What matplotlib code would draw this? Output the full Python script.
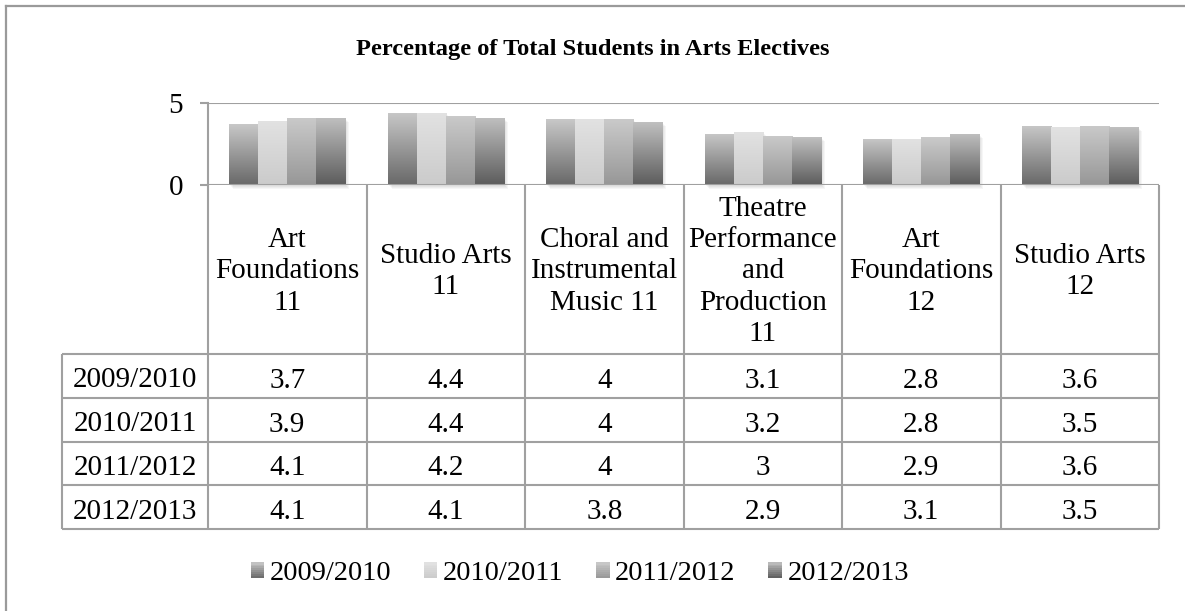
import numpy as np
import matplotlib
matplotlib.use("Agg")
import matplotlib.pyplot as plt
from matplotlib.patches import Rectangle
from matplotlib.colors import LinearSegmentedColormap, to_rgb
from matplotlib.legend_handler import HandlerBase
import matplotlib.transforms as mtransforms

# ---------------- data ----------------
categories = [
    "Art\nFoundations\n11",
    "Studio Arts\n11",
    "Choral and\nInstrumental\nMusic 11",
    "Theatre\nPerformance\nand\nProduction\n11",
    "Art\nFoundations\n12",
    "Studio Arts\n12",
]
series_names = ["2009/2010", "2010/2011", "2011/2012", "2012/2013"]
v_2009 = [3.7, 4.4, 4.0, 3.1, 2.8, 3.6]
v_2010 = [3.9, 4.4, 4.0, 3.2, 2.8, 3.5]
v_2011 = [4.1, 4.2, 4.0, 3.0, 2.9, 3.6]
v_2012 = [4.1, 4.1, 3.8, 2.9, 3.1, 3.5]
series_values = [v_2009, v_2010, v_2011, v_2012]
y_ticks = [0, 5]
title = "Percentage of Total Students in Arts Electives"

# gradient (top, bottom) colours for each series
grad_colors = [("#c8c8c8", "#686868"),
               ("#e2e2e2", "#cbcbcb"),
               ("#cacaca", "#979797"),
               ("#c0c0c0", "#5c5c5c")]

FONT = "Liberation Serif"
FS = 21
GRAY = "#a0a0a0"

W, H = 1185, 611
fig = plt.figure(figsize=(W / 100, H / 100), dpi=100)
fig.patch.set_facecolor("white")

# layout (pixels)
ax_left, ax_right = 208, 1159
y_five, y_zero = 102.7, 185
row_top = 354
row_h = 43.75
tab_left = 62

ax = fig.add_axes([ax_left / W, 1 - y_zero / H, (ax_right - ax_left) / W, (y_zero - y_five) / H])
ax.set_facecolor("none")
n = len(categories)
x = np.arange(n)
bw = 0.183

for i, vals in enumerate(series_values):
    off = (i - 1.5) * bw
    bars = ax.bar(x + off, vals, width=bw, color="none", edgecolor="none", zorder=3)
    top, bot = grad_colors[i]
    cmap = LinearSegmentedColormap.from_list("g%d" % i, [to_rgb(bot), to_rgb(top)])
    grad = np.linspace(0, 1, 256).reshape(-1, 1)
    for p in bars.patches:
        x0, w0, h0 = p.get_x(), p.get_width(), p.get_height()
        im = ax.imshow(grad, extent=[x0, x0 + w0, 0, h0], origin="lower", cmap=cmap,
                       aspect="auto", zorder=3, interpolation="bilinear")
        im.set_clip_path(p)
        # soft shadow
        for k in range(1, 5):
            tr = ax.transData + mtransforms.ScaledTranslation(k / 100, -k / 100, fig.dpi_scale_trans)
            sh = Rectangle((x0, 0), w0, h0, facecolor="black", alpha=0.035, edgecolor="none",
                           transform=tr, zorder=2, clip_on=False)
            ax.add_patch(sh)

ax.set_xlim(-0.5, n - 0.5)
ax.set_ylim(0, 5)
ax.set_xticks([])
ax.set_yticks(y_ticks)
ax.set_yticklabels([str(t) for t in y_ticks], fontfamily=FONT, fontsize=FS)
ax.tick_params(axis="y", length=5.8, width=1.5, color=GRAY, pad=12)
for s in ["top", "right", "bottom"]:
    ax.spines[s].set_visible(False)
ax.spines["left"].set_color(GRAY)
ax.spines["left"].set_linewidth(1.5)
for t in y_ticks:
    ax.axhline(t, color=GRAY, lw=1.5, zorder=1 if t else 4)

# ---------------- overlay for table, title, frame ----------------
tax = fig.add_axes([0, 0, 1, 1], zorder=-1)
tax.set_xlim(0, W)
tax.set_ylim(H, 0)
tax.axis("off")

col_edges = ax_left + (ax_right - ax_left) / n * np.arange(n + 1)
row_lines = row_top + row_h * np.arange(len(series_names) + 1)
tab_bottom = row_lines[-1]

for xe in col_edges:
    tax.plot([xe, xe], [y_zero, tab_bottom], color=GRAY, lw=1.5, solid_capstyle="butt")
tax.plot([tab_left, tab_left], [row_top, tab_bottom], color=GRAY, lw=1.5, solid_capstyle="butt")
for yl in row_lines:
    tax.plot([tab_left, ax_right], [yl, yl], color=GRAY, lw=1.5, solid_capstyle="butt")

col_centers = (col_edges[:-1] + col_edges[1:]) / 2
for cx, cat in zip(col_centers, categories):
    tax.text(cx, (y_zero + row_top) / 2 + 2, cat, ha="center", va="center", fontfamily=FONT,
             fontsize=FS, linespacing=1.26, multialignment="center")

for r, (name, vals) in enumerate(zip(series_names, series_values)):
    cy = (row_lines[r] + row_lines[r + 1]) / 2
    tax.text((tab_left + ax_left) / 2, cy + 11.5, name, ha="center", va="baseline",
             fontfamily=FONT, fontsize=FS)
    for cx, v in zip(col_centers, vals):
        tax.text(cx, cy + 12, "{:g}".format(v), ha="center", va="baseline",
                 fontfamily=FONT, fontsize=FS)

tax.text(W / 2, 50, title, ha="center", va="center", fontfamily=FONT, fontsize=17.6, fontweight="bold")

# outer frame (cropped at right/bottom)
tax.plot([6, 6], [6, H + 10], color="#9a9a9a", lw=1.6, clip_on=False)
tax.plot([6, W + 10], [6, 6], color="#9a9a9a", lw=1.6, clip_on=False)


# ---------------- legend with gradient swatches ----------------
class GradHandler(HandlerBase):
    def create_artists(self, legend, orig_handle, xdescent, ydescent, width, height, fontsize, trans):
        top, bot = orig_handle.get_gid().split(",")
        c_top, c_bot = np.array(to_rgb(top)), np.array(to_rgb(bot))
        arts = []
        nstrip = 8
        for k in range(nstrip):
            f = (k + 0.5) / nstrip
            c = c_bot * (1 - f) + c_top * f
            r = Rectangle((-xdescent, -ydescent + height * k / nstrip), width, height / nstrip + 0.3,
                          facecolor=c, edgecolor="none", transform=trans)
            arts.append(r)
        return arts


handles = []
for (top, bot) in grad_colors:
    h = Rectangle((0, 0), 1, 1)
    h.set_gid(top + "," + bot)
    handles.append(h)

leg = fig.legend(handles, series_names, loc="center", bbox_to_anchor=(580 / W, 1 - 574 / H),
                 ncol=4, frameon=False, handler_map={Rectangle: GradHandler()},
                 prop={"family": FONT, "size": 20.5}, handlelength=0.46, handleheight=0.46,
                 handletextpad=0.2, columnspacing=1.15)

fig.savefig("out.png", dpi=100, facecolor="white")
